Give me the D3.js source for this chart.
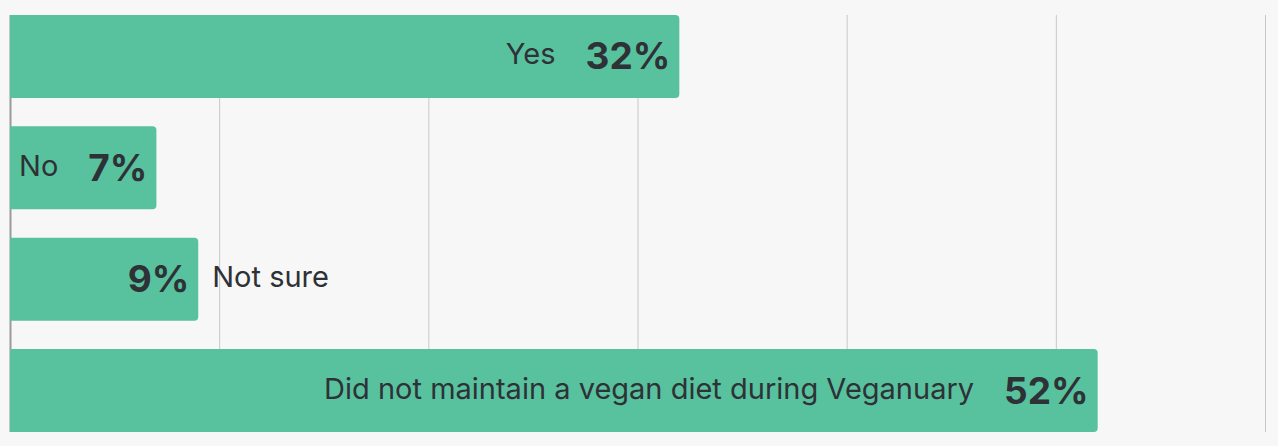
<!DOCTYPE html>
<html>
<head>
<meta charset="utf-8">
<script src="https://cdn.jsdelivr.net/npm/d3@7"></script>
<style>
  html, body { margin: 0; padding: 0; background: #f7f7f7; }
  #chart svg { display: block; }
</style>
</head>
<body>
<div id="chart"></div>
<script>
// Chart data
const categories = ['Yes', 'No', 'Not sure', 'Did not maintain a vegan diet during Veganuary'];
const values = [32, 7, 9, 52];
const gridTicks = [0, 10, 20, 30, 40, 50, 60];

const width = 1278;
const height = 446;

const svg = d3.select('#chart').append('svg')
  .attr('width', width)
  .attr('height', height);

const x = d3.scaleLinear().domain([0, 60]).range([10, 1265]);
const y = d3.scaleBand().domain(categories).range([15, 432]).paddingInner(0.2545).paddingOuter(0);

// Gridlines
svg.append('g')
  .selectAll('line')
  .data(gridTicks)
  .enter()
  .append('line')
  .attr('x1', d => x(d) + 0.5)
  .attr('x2', d => x(d) + 0.5)
  .attr('y1', 15)
  .attr('y2', 432)
  .attr('stroke', d => d === 0 ? '#9a9a9a' : '#c8c8c8')
  .attr('stroke-width', d => d === 0 ? 2 : 1);

// Bar shape with rounded right corners only
function barPath(x0, x1, y0, h, r) {
  return `M${x0},${y0}H${x1 - r}Q${x1},${y0} ${x1},${y0 + r}V${y0 + h - r}Q${x1},${y0 + h} ${x1 - r},${y0 + h}H${x0}Z`;
}

const rows = svg.append('g')
  .selectAll('g')
  .data(categories.map((c, i) => ({ cat: c, val: values[i] })))
  .enter()
  .append('g');

rows.append('path')
  .attr('d', d => barPath(x(0), x(d.val), y(d.cat), y.bandwidth(), 4))
  .attr('fill', '#58c29e');

const pad = 9;  // space between bar end and value
const gap = 30; // space between label and value

rows.each(function (d) {
  const g = d3.select(this);
  const cy = y(d.cat) + y.bandwidth() / 2;
  const end = x(d.val);

  const valText = g.append('text')
    .attr('x', end - pad)
    .attr('y', cy + 13)
    .attr('text-anchor', 'end')
    .attr('font-family', 'Inter, "Noto Sans", sans-serif')
    .attr('font-weight', 700)
    .attr('font-size', 37)
    .attr('fill', '#2e3136')
    .text(d.val + '%');

  const valW = valText.node().getComputedTextLength();

  const label = g.append('text')
    .attr('y', cy + 8)
    .attr('font-family', 'Inter, "Noto Sans", sans-serif')
    .attr('font-size', 29)
    .attr('fill', '#2e3136')
    .text(d.cat);

  const labW = label.node().getComputedTextLength();
  const inside = labW + valW + gap + pad <= end - x(0);

  if (inside) {
    label.attr('x', end - pad - valW - gap).attr('text-anchor', 'end');
  } else {
    label.attr('x', end + 14).attr('text-anchor', 'start');
  }
});
</script>
</body>
</html>
